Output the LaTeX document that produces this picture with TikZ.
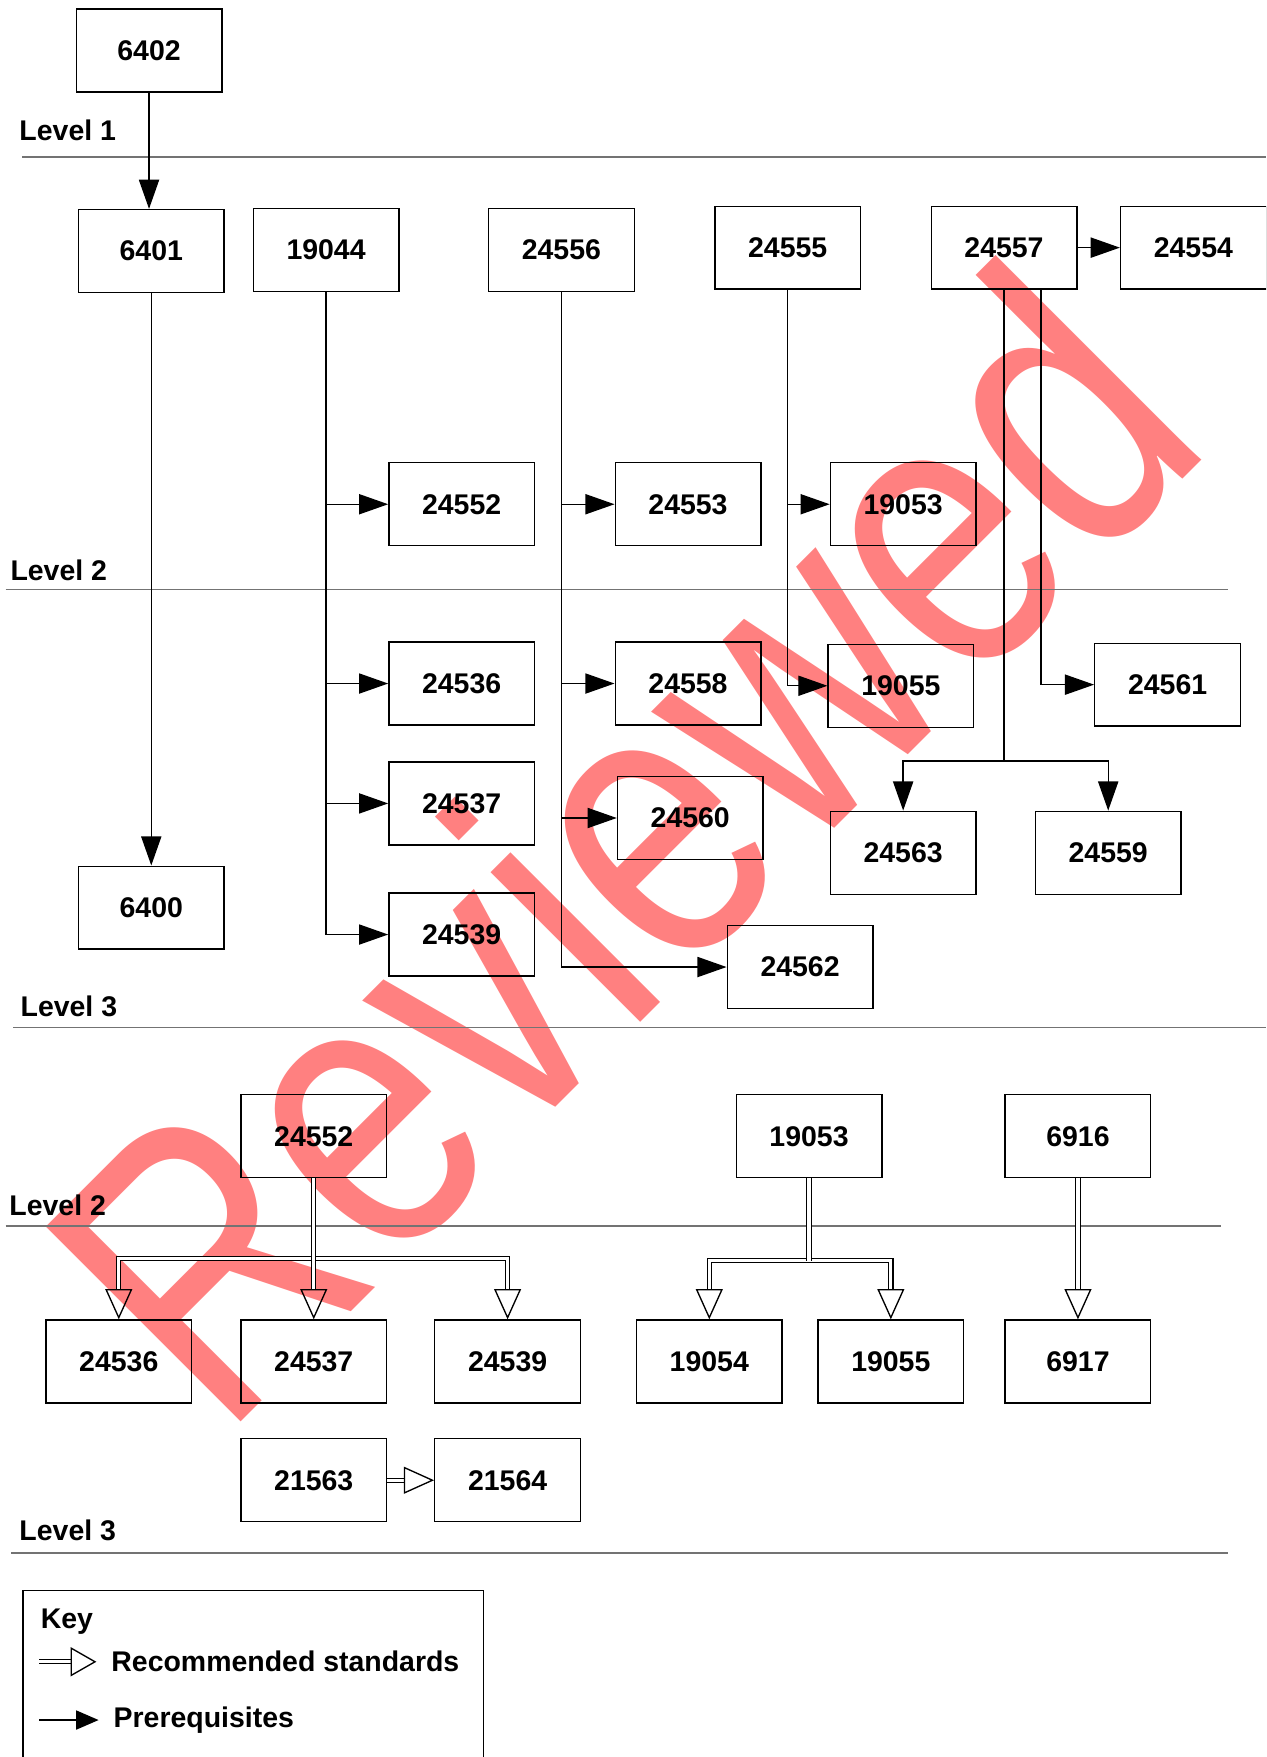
\documentclass[tikz,border=0pt]{standalone}
\usepackage{fontspec}
\setmainfont{Liberation Sans}
\usetikzlibrary{arrows.meta}
\definecolor{wm}{RGB}{255,128,128}
\newcommand\dfont{\bfseries\fontsize{12.7}{15}\selectfont}
\begin{document}
\begin{tikzpicture}[x=0.5pt,y=-0.5pt,
  box/.style={draw, line width=0.6pt, minimum width=65pt, minimum height=37pt, inner sep=0pt, font=\dfont},
  lbl/.style={anchor=west, inner sep=0pt, font=\dfont},
  sepline/.style={draw=black!55, line width=0.6pt},
  plain/.style={line width=0.6pt},
  pre/.style={line width=0.6pt, -{Triangle[length=13pt,width=9pt]}},
  prekey/.style={line width=0.6pt, -{Triangle[length=10pt,width=8.5pt]}},
  dline/.style={double, double distance=1.4pt, line width=0.5pt},
  rec/.style={dline, -{Triangle[open,length=13.5pt,width=12pt,line width=0.6pt]}},
  recboth/.style={dline, {Triangle[open,length=13.5pt,width=12pt,line width=0.6pt]}-{Triangle[open,length=13.5pt,width=12pt,line width=0.6pt]}},
  reckey/.style={dline, -{Triangle[open,length=11.5pt,width=13pt,line width=0.6pt]}}
]
\useasboundingbox (0,0) rectangle (1130,1568);
\clip (0,0) rectangle (1130,1568);

% watermark
\begin{scope}[shift={(198,1286)}, rotate=45, yscale=1.25]
\node[transform shape, text=wm, anchor=base west, inner sep=0pt, font=\fontsize{143}{143}\selectfont] (wmark) at (0,0) {Reviewed};
\end{scope}

% level labels and separators
\node[lbl] (lv1) at (17,116) {Level 1};
\draw[sepline] (20,140) -- (1130,140);
\node[lbl] (lv2) at (9,509) {Level 2};
\draw[sepline] (5,526) -- (1096,526);
\node[lbl] (lv3) at (18,898) {Level 3};
\draw[sepline] (12,917) -- (1130,917);
\node[lbl] (lv2b) at (8,1076) {Level 2};
\draw[sepline] (5,1094) -- (1090,1094);
\node[lbl] (lv3b) at (17,1366) {Level 3};
\draw[sepline] (10,1386) -- (1096,1386);

% upper boxes
\node[box] (a6402) at (133,45) {6402};
\node[box] (a6401) at (135,224) {6401};
\node[box] (a19044) at (291,223) {19044};
\node[box] (a24556) at (501,223) {24556};
\node[box] (a24555) at (703,221) {24555};
\node[box] (a24557) at (896,221) {24557};
\node[box] (a24554) at (1065,221) {24554};
\node[box] (a24552) at (412,450) {24552};
\node[box] (a24553) at (614,450) {24553};
\node[box] (a19053) at (806,450) {19053};
\node[box] (a24536) at (412,610) {24536};
\node[box] (a24558) at (614,610) {24558};
\node[box] (a19055) at (804,612) {19055};
\node[box] (a24561) at (1042,611) {24561};
\node[box] (a24537) at (412,717) {24537};
\node[box] (a24560) at (616,730) {24560};
\node[box] (a24563) at (806,761) {24563};
\node[box] (a24559) at (989,761) {24559};
\node[box] (a6400) at (135,810) {6400};
\node[box] (a24539) at (412,834) {24539};
\node[box] (a24562) at (714,863) {24562};

% upper connectors
\draw[pre] (a6402.south) -- (a6402.south |- a6401.north);
\draw[pre] (a6401) -- (a6400);
\draw[pre] (a19044.south) |- (a24539.west);
\draw[pre] (a19044.south |- a24552.west) -- (a24552.west);
\draw[pre] (a19044.south |- a24536.west) -- (a24536.west);
\draw[pre] (a19044.south |- a24537.west) -- (a24537.west);
\draw[pre] (a24556.south) |- (a24562.west);
\draw[pre] (a24556.south |- a24553.west) -- (a24553.west);
\draw[pre] (a24556.south |- a24558.west) -- (a24558.west);
\draw[pre] (a24556.south |- a24560.west) -- (a24560.west);
\draw[pre] (a24555.south) |- (a19055.west);
\draw[pre] (a24555.south |- a19053.west) -- (a19053.west);
\draw[pre] (a24557.east) -- (a24554.west);
\coordinate (j1) at (896,679);
\draw[plain] (a24557.south) -- (j1);
\draw[pre] (j1) -| (a24563.north);
\draw[pre] (j1) -| (a24559.north);
\coordinate (t1) at (929,258);
\draw[pre] (t1) |- (a24561.west);

% lower boxes
\node[box] (b24552) at (280,1014) {24552};
\node[box] (b19053) at (722,1014) {19053};
\node[box] (b6916) at (962,1014) {6916};
\node[box] (b24536) at (106,1215) {24536};
\node[box] (b24537) at (280,1215) {24537};
\node[box] (b24539) at (453,1215) {24539};
\node[box] (b19054) at (633,1215) {19054};
\node[box] (b19055) at (795,1215) {19055};
\node[box] (b6917) at (962,1215) {6917};
\node[box] (b21563) at (280,1321) {21563};
\node[box] (b21564) at (453,1321) {21564};

% lower connectors
\coordinate (j2) at (280,1123);
\draw[recboth] (b24536.north) |- (j2) -| (b24539.north);
\draw[rec] (b24552) -- (b24537);
\coordinate (j3) at (722,1125);
\draw[recboth] (b19054.north) |- (j3) -| (b19055.north);
\draw[dline] (b19053.south) -- (j3);
\draw[rec] (b6916) -- (b6917);
\draw[rec] (b21563) -- (b21564);

% key
\node[draw, line width=0.6pt, anchor=north west, minimum width=205.5pt, minimum height=90pt, inner sep=0pt] (keybox) at (20,1419) {};
\node[lbl] (keyt) at (36,1447) {Key};
\coordinate (k1) at (35,1483);
\coordinate (k2) at (86,1483);
\draw[reckey] (k1) -- (k2);
\node[lbl] (kt1) at (99,1483) {Recommended standards};
\coordinate (k3) at (35,1535);
\coordinate (k4) at (88,1535);
\draw[prekey] (k3) -- (k4);
\node[lbl] (kt2) at (101,1535) {Prerequisites};
\end{tikzpicture}
\end{document}
